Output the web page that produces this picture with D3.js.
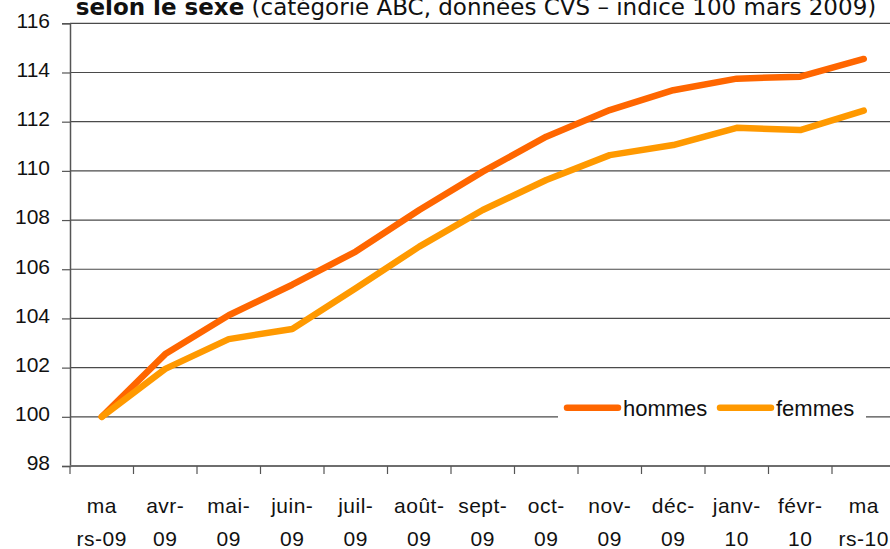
<!DOCTYPE html>
<html>
<head>
<meta charset="utf-8">
<script src="https://cdn.jsdelivr.net/npm/d3@7"></script>
<style>
  body { margin: 0; background: #fff; }
  svg { display: block; font-family: "Liberation Sans", Arial, sans-serif; }
</style>
</head>
<body>
<div id="chart"></div>
<script>
// Demandeurs d'emploi selon le sexe - indice 100 mars 2009
const categories = ["mars-09", "avr-09", "mai-09", "juin-09", "juil-09", "août-09", "sept-09",
    "oct-09", "nov-09", "déc-09", "janv-10", "févr-10", "mars-10"];
const labelTop = ["ma", "avr-", "mai-", "juin-", "juil-", "août-", "sept-", "oct-", "nov-", "déc-", "janv-", "févr-", "ma"];
const labelBottom = ["rs-09", "09", "09", "09", "09", "09", "09", "09", "09", "09", "10", "10", "rs-10"];
const hommes = [100, 102.55, 104.13, 105.37, 106.72, 108.41, 109.97, 111.39, 112.47, 113.28, 113.75, 113.83, 114.55];
const femmes = [100, 101.95, 103.16, 103.57, 105.23, 106.92, 108.41, 109.63, 110.64, 111.05, 111.75, 111.66, 112.45];
const yTicks = [98, 100, 102, 104, 106, 108, 110, 112, 114, 116];
const seriesNames = ["hommes", "femmes"];
const colors = ["#ff6600", "#ff9900"];

const width = 890, height = 549;
const plot = { left: 70, top: 23.3, bottom: 466, step: 63.5 };

const svg = d3.select("#chart")
    .append("svg")
    .attr("width", width)
    .attr("height", height);

const x = d3.scaleBand()
    .domain(categories)
    .range([plot.left, plot.left + categories.length * plot.step])
    .padding(0);

const y = d3.scaleLinear()
    .domain([98, 116])
    .range([plot.bottom, plot.top]);

// grid lines
svg.append("g")
    .selectAll("line")
    .data(yTicks.filter(d => d > 98))
    .enter()
    .append("line")
    .attr("x1", plot.left)
    .attr("x2", width)
    .attr("y1", d => y(d))
    .attr("y2", d => y(d))
    .attr("stroke", "#4a4a4a")
    .attr("stroke-width", 1.2);

// y axis
const yAxis = svg.append("g")
    .attr("transform", `translate(${plot.left},0)`)
    .call(d3.axisLeft(y).tickValues(yTicks).tickSize(8).tickPadding(12).tickFormat(d3.format("d")));
yAxis.select(".domain").attr("stroke", "#555").attr("stroke-width", 1.5);
yAxis.selectAll(".tick line").attr("stroke", "#555").attr("stroke-width", 1.2);
yAxis.selectAll(".tick text")
    .attr("font-size", 21)
    .attr("font-family", "Liberation Sans, Arial, sans-serif")
    .attr("fill", "#111")
    .attr("dy", "0.18em");

// x axis
svg.append("line")
    .attr("x1", plot.left)
    .attr("x2", width)
    .attr("y1", plot.bottom)
    .attr("y2", plot.bottom)
    .attr("stroke", "#6e6e6e")
    .attr("stroke-width", 2);

svg.append("g")
    .selectAll("line")
    .data(categories)
    .enter()
    .append("line")
    .attr("x1", d => x(d))
    .attr("x2", d => x(d))
    .attr("y1", plot.bottom)
    .attr("y2", plot.bottom + 8)
    .attr("stroke", "#555")
    .attr("stroke-width", 1.2);

const xLabels = svg.append("g")
    .attr("font-size", 21)
    .attr("fill", "#111")
    .attr("text-anchor", "middle");

xLabels.selectAll(".lab-top")
    .data(categories)
    .enter()
    .append("text")
    .attr("class", "lab-top")
    .attr("x", d => x(d) + x.bandwidth() / 2)
    .attr("y", 513)
    .attr("letter-spacing", 0.5)
    .text((d, i) => labelTop[i]);

xLabels.selectAll(".lab-bottom")
    .data(categories)
    .enter()
    .append("text")
    .attr("class", "lab-bottom")
    .attr("x", d => x(d) + x.bandwidth() / 2)
    .attr("y", 546)
    .attr("letter-spacing", 0.5)
    .text((d, i) => labelBottom[i]);

// lines
const line = d3.line()
    .x((d, i) => x(categories[i]) + x.bandwidth() / 2)
    .y(d => y(d));

[hommes, femmes].forEach((values, k) => {
    svg.append("path")
        .datum(values)
        .attr("fill", "none")
        .attr("stroke", colors[k])
        .attr("stroke-width", 6.5)
        .attr("stroke-linejoin", "round")
        .attr("stroke-linecap", "round")
        .attr("d", line);
});

// legend
const legend = svg.append("g");
legend.append("rect")
    .attr("x", 558)
    .attr("y", 396)
    .attr("width", 308)
    .attr("height", 36)
    .attr("fill", "#fff");

const legendX = [567, 720];
seriesNames.forEach((name, k) => {
    legend.append("line")
        .attr("x1", legendX[k])
        .attr("x2", legendX[k] + 51)
        .attr("y1", 407.7)
        .attr("y2", 407.7)
        .attr("stroke", colors[k])
        .attr("stroke-width", 6.5)
        .attr("stroke-linecap", "round");
    legend.append("text")
        .attr("x", legendX[k] + 56)
        .attr("y", 416)
        .attr("font-size", 22)
        .attr("fill", "#111")
        .text(name);
});

// title, cut at the top of the picture
const title = svg.append("text")
    .attr("x", 476)
    .attr("y", 15)
    .attr("text-anchor", "middle")
    .attr("font-family", "DejaVu Sans, sans-serif")
    .attr("font-size", 23)
    .attr("fill", "#111");
title.append("tspan").attr("font-weight", "bold").text("selon le sexe");
title.append("tspan").text(" (catégorie ABC, données CVS – indice 100 mars 2009)");
</script>
</body>
</html>
